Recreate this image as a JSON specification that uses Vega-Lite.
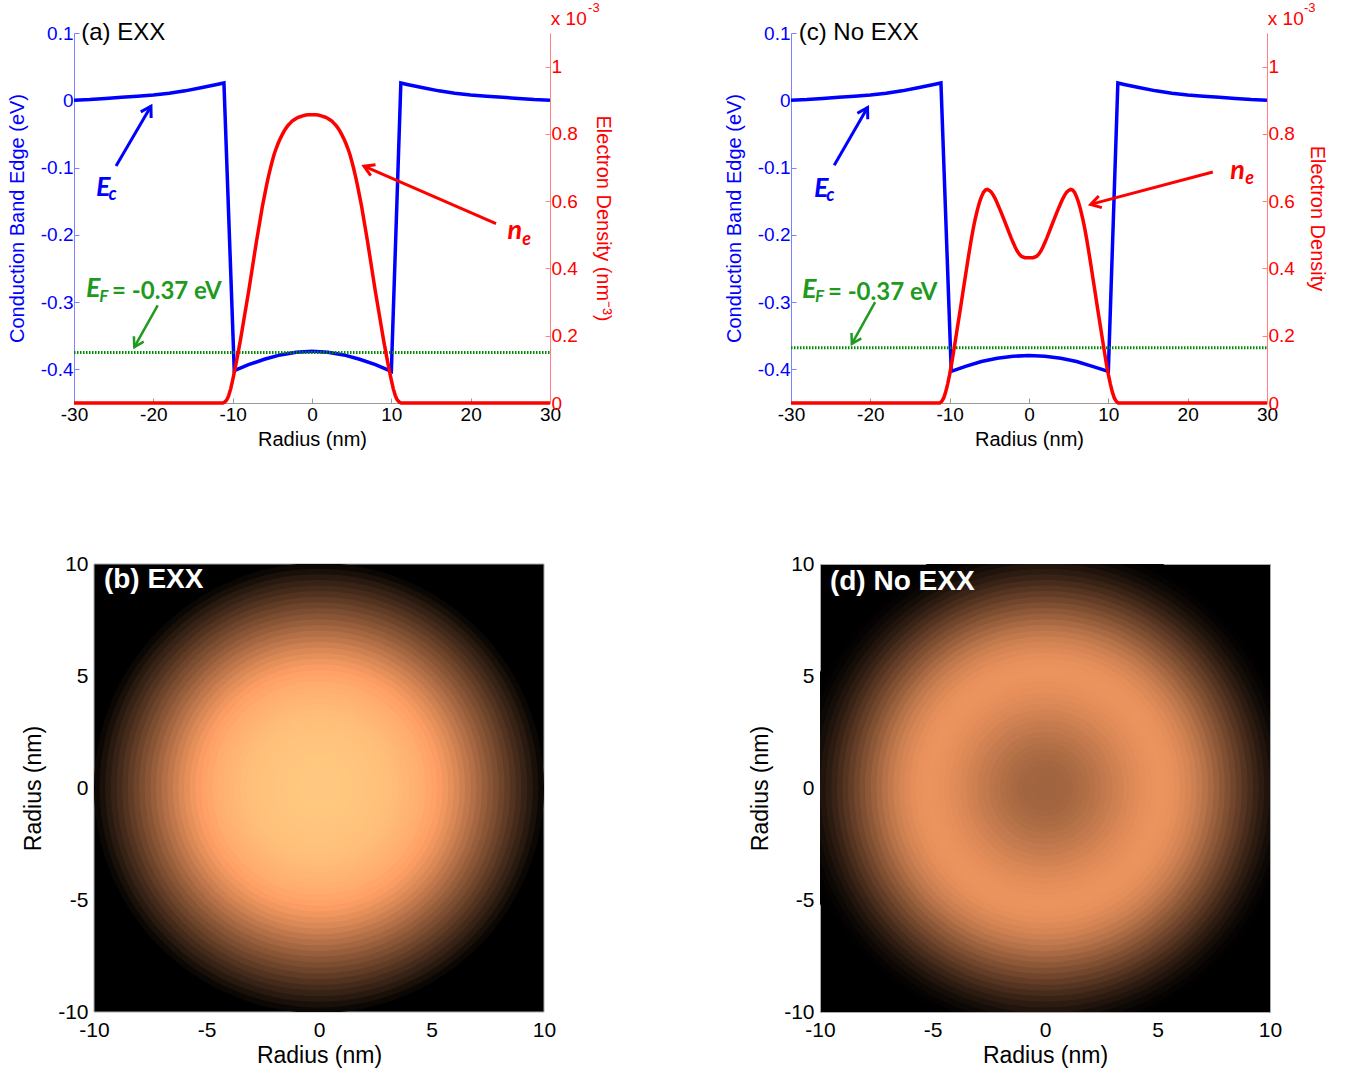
{
"$schema": "https://vega.github.io/schema/vega-lite/v6.json",
"background": "white",
"padding": {"left": 7, "top": 2, "right": 0, "bottom": 0},
"config": {
  "font": "Liberation Sans",
  "view": {"stroke": null},
  "axis": {"titleFontWeight": "normal", "grid": false, "labelFlush": false, "labelOverlap": false, "labelFont": "Liberation Sans", "titleFont": "Liberation Sans"},
  "locale": {"number": {"decimal": ".", "thousands": ",", "grouping": [3], "currency": ["$", ""], "minus": "-"}}
},
"datasets": {
  "ecA": [{"x":-30,"y":0},{"x":-28,"y":0.001},{"x":-26,"y":0.0028},{"x":-24,"y":0.0045},{"x":-22,"y":0.006},{"x":-20,"y":0.0078},{"x":-18,"y":0.0105},{"x":-16,"y":0.014},{"x":-14,"y":0.0185},{"x":-12,"y":0.0235},{"x":-11.1,"y":0.0257},{"x":-9.8,"y":-0.402},{"x":-8,"y":-0.393},{"x":-6,"y":-0.385},{"x":-4,"y":-0.3785},{"x":-2,"y":-0.3745},{"x":0,"y":-0.373},{"x":2,"y":-0.3745},{"x":4,"y":-0.3785},{"x":6,"y":-0.385},{"x":8,"y":-0.393},{"x":10,"y":-0.403},{"x":11.2,"y":0.0257},{"x":12,"y":0.0235},{"x":14,"y":0.0185},{"x":16,"y":0.014},{"x":18,"y":0.0105},{"x":20,"y":0.0078},{"x":22,"y":0.006},{"x":24,"y":0.0045},{"x":26,"y":0.0028},{"x":28,"y":0.001},{"x":30,"y":0}],
  "ecC": [{"x":-30,"y":0},{"x":-28,"y":0.001},{"x":-26,"y":0.0028},{"x":-24,"y":0.0045},{"x":-22,"y":0.006},{"x":-20,"y":0.0078},{"x":-18,"y":0.0105},{"x":-16,"y":0.014},{"x":-14,"y":0.0185},{"x":-12,"y":0.0235},{"x":-11.1,"y":0.0257},{"x":-9.8,"y":-0.403},{"x":-8,"y":-0.3955},{"x":-6,"y":-0.3883},{"x":-4,"y":-0.3834},{"x":-2,"y":-0.3805},{"x":0,"y":-0.3795},{"x":2,"y":-0.3805},{"x":4,"y":-0.3834},{"x":6,"y":-0.3883},{"x":8,"y":-0.3955},{"x":10,"y":-0.403},{"x":11.2,"y":0.0257},{"x":12,"y":0.0235},{"x":14,"y":0.0185},{"x":16,"y":0.014},{"x":18,"y":0.0105},{"x":20,"y":0.0078},{"x":22,"y":0.006},{"x":24,"y":0.0045},{"x":26,"y":0.0028},{"x":28,"y":0.001},{"x":30,"y":0}],
  "neA": [{"x":-30,"n":0},{"x":-11.25,"n":0},{"x":-11,"n":0.003},{"x":-10.75,"n":0.009},{"x":-10.5,"n":0.022},{"x":-10.25,"n":0.042},{"x":-10,"n":0.068},{"x":-9.75,"n":0.096},{"x":-9.5,"n":0.126},{"x":-9.25,"n":0.158},{"x":-9,"n":0.19},{"x":-8.75,"n":0.225},{"x":-8.5,"n":0.26},{"x":-8.25,"n":0.295},{"x":-8,"n":0.33},{"x":-7.75,"n":0.367},{"x":-7.5,"n":0.405},{"x":-7.25,"n":0.443},{"x":-7,"n":0.48},{"x":-6.75,"n":0.515},{"x":-6.5,"n":0.55},{"x":-6.25,"n":0.585},{"x":-6,"n":0.615},{"x":-5.75,"n":0.645},{"x":-5.5,"n":0.672},{"x":-5.25,"n":0.697},{"x":-5,"n":0.72},{"x":-4.75,"n":0.741},{"x":-4.5,"n":0.758},{"x":-4.25,"n":0.773},{"x":-4,"n":0.786},{"x":-3.75,"n":0.798},{"x":-3.5,"n":0.809},{"x":-3.25,"n":0.818},{"x":-3,"n":0.826},{"x":-2.75,"n":0.832},{"x":-2.5,"n":0.838},{"x":-2.25,"n":0.842},{"x":-2,"n":0.846},{"x":-1.75,"n":0.849},{"x":-1.5,"n":0.851},{"x":-1.25,"n":0.853},{"x":-1,"n":0.855},{"x":-0.75,"n":0.856},{"x":-0.5,"n":0.857},{"x":-0.25,"n":0.857},{"x":0,"n":0.857},{"x":0.25,"n":0.857},{"x":0.5,"n":0.857},{"x":0.75,"n":0.856},{"x":1,"n":0.855},{"x":1.25,"n":0.853},{"x":1.5,"n":0.851},{"x":1.75,"n":0.849},{"x":2,"n":0.846},{"x":2.25,"n":0.842},{"x":2.5,"n":0.838},{"x":2.75,"n":0.832},{"x":3,"n":0.826},{"x":3.25,"n":0.818},{"x":3.5,"n":0.809},{"x":3.75,"n":0.798},{"x":4,"n":0.786},{"x":4.25,"n":0.773},{"x":4.5,"n":0.758},{"x":4.75,"n":0.741},{"x":5,"n":0.72},{"x":5.25,"n":0.697},{"x":5.5,"n":0.672},{"x":5.75,"n":0.645},{"x":6,"n":0.615},{"x":6.25,"n":0.585},{"x":6.5,"n":0.55},{"x":6.75,"n":0.515},{"x":7,"n":0.48},{"x":7.25,"n":0.443},{"x":7.5,"n":0.405},{"x":7.75,"n":0.367},{"x":8,"n":0.33},{"x":8.25,"n":0.295},{"x":8.5,"n":0.26},{"x":8.75,"n":0.225},{"x":9,"n":0.19},{"x":9.25,"n":0.158},{"x":9.5,"n":0.126},{"x":9.75,"n":0.096},{"x":10,"n":0.068},{"x":10.25,"n":0.042},{"x":10.5,"n":0.022},{"x":10.75,"n":0.009},{"x":11,"n":0.003},{"x":11.25,"n":0},{"x":30,"n":0}],
  "hmB": [{"r":0,"n":0.857},{"r":0.25,"n":0.857},{"r":0.5,"n":0.857},{"r":0.75,"n":0.856},{"r":1,"n":0.855},{"r":1.25,"n":0.853},{"r":1.5,"n":0.851},{"r":1.75,"n":0.849},{"r":2,"n":0.846},{"r":2.25,"n":0.842},{"r":2.5,"n":0.838},{"r":2.75,"n":0.832},{"r":3,"n":0.826},{"r":3.25,"n":0.818},{"r":3.5,"n":0.809},{"r":3.75,"n":0.798},{"r":4,"n":0.786},{"r":4.25,"n":0.773},{"r":4.5,"n":0.758},{"r":4.75,"n":0.741},{"r":5,"n":0.72},{"r":5.25,"n":0.697},{"r":5.5,"n":0.672},{"r":5.75,"n":0.645},{"r":6,"n":0.615},{"r":6.25,"n":0.585},{"r":6.5,"n":0.55},{"r":6.75,"n":0.515},{"r":7,"n":0.48},{"r":7.25,"n":0.443},{"r":7.5,"n":0.405},{"r":7.75,"n":0.367},{"r":8,"n":0.33},{"r":8.25,"n":0.295},{"r":8.5,"n":0.258},{"r":8.75,"n":0.218},{"r":9,"n":0.182},{"r":9.25,"n":0.146},{"r":9.5,"n":0.11},{"r":9.75,"n":0.07},{"r":10,"n":0.03}],
  "neC": [{"x":-30,"n":0},{"x":-11.25,"n":0},{"x":-11,"n":0.005},{"x":-10.75,"n":0.015},{"x":-10.5,"n":0.033},{"x":-10.25,"n":0.057},{"x":-10,"n":0.085},{"x":-9.75,"n":0.117},{"x":-9.5,"n":0.153},{"x":-9.25,"n":0.19},{"x":-9,"n":0.228},{"x":-8.75,"n":0.265},{"x":-8.5,"n":0.303},{"x":-8.25,"n":0.342},{"x":-8,"n":0.38},{"x":-7.75,"n":0.418},{"x":-7.5,"n":0.455},{"x":-7.25,"n":0.49},{"x":-7,"n":0.522},{"x":-6.75,"n":0.55},{"x":-6.5,"n":0.575},{"x":-6.25,"n":0.596},{"x":-6,"n":0.613},{"x":-5.75,"n":0.626},{"x":-5.5,"n":0.633},{"x":-5.25,"n":0.635},{"x":-5,"n":0.632},{"x":-4.75,"n":0.627},{"x":-4.5,"n":0.618},{"x":-4.25,"n":0.607},{"x":-4,"n":0.594},{"x":-3.75,"n":0.58},{"x":-3.5,"n":0.566},{"x":-3.25,"n":0.551},{"x":-3,"n":0.536},{"x":-2.75,"n":0.521},{"x":-2.5,"n":0.506},{"x":-2.25,"n":0.491},{"x":-2,"n":0.477},{"x":-1.75,"n":0.464},{"x":-1.5,"n":0.452},{"x":-1.25,"n":0.443},{"x":-1,"n":0.437},{"x":-0.75,"n":0.434},{"x":-0.5,"n":0.432},{"x":-0.25,"n":0.432},{"x":0,"n":0.432},{"x":0.25,"n":0.432},{"x":0.5,"n":0.432},{"x":0.75,"n":0.434},{"x":1,"n":0.437},{"x":1.25,"n":0.443},{"x":1.5,"n":0.452},{"x":1.75,"n":0.464},{"x":2,"n":0.477},{"x":2.25,"n":0.491},{"x":2.5,"n":0.506},{"x":2.75,"n":0.521},{"x":3,"n":0.536},{"x":3.25,"n":0.551},{"x":3.5,"n":0.566},{"x":3.75,"n":0.58},{"x":4,"n":0.594},{"x":4.25,"n":0.607},{"x":4.5,"n":0.618},{"x":4.75,"n":0.627},{"x":5,"n":0.632},{"x":5.25,"n":0.635},{"x":5.5,"n":0.633},{"x":5.75,"n":0.626},{"x":6,"n":0.613},{"x":6.25,"n":0.596},{"x":6.5,"n":0.575},{"x":6.75,"n":0.55},{"x":7,"n":0.522},{"x":7.25,"n":0.49},{"x":7.5,"n":0.455},{"x":7.75,"n":0.418},{"x":8,"n":0.38},{"x":8.25,"n":0.342},{"x":8.5,"n":0.303},{"x":8.75,"n":0.265},{"x":9,"n":0.228},{"x":9.25,"n":0.19},{"x":9.5,"n":0.153},{"x":9.75,"n":0.117},{"x":10,"n":0.085},{"x":10.25,"n":0.057},{"x":10.5,"n":0.033},{"x":10.75,"n":0.015},{"x":11,"n":0.005},{"x":11.25,"n":0},{"x":30,"n":0}]
},
"spacing": 103,
"columns": 1,
"resolve": {"scale": {"x": "independent", "y": "independent", "color": "independent", "size": "independent"}},
"concat": [
 {
  "spacing": 111,
  "resolve": {"scale": {"x": "independent", "y": "independent"}},
  "hconcat": [
   {
    "width": 476, "height": 370,
    "resolve": {"scale": {"y": "independent"}},
    "encoding": {
      "x": {"field": "x", "type": "quantitative", "scale": {"domain": [-30, 30], "nice": false, "zero": false},
            "axis": {"values": [-30,-20,-10,0,10,20,30], "title": "Radius (nm)", "titleFontSize": 20, "labelFontSize": 19, "labelColor": "#000000", "titleColor": "#000000", "domainColor": "#999999", "tickColor": "#999999", "tickSize": -5, "labelPadding": 7, "titlePadding": 5, "format": "~r"}}
    },
    "layer": [
     {
      "encoding": {
        "y": {"field": "y", "type": "quantitative", "scale": {"domain": [-0.45, 0.1], "nice": false, "zero": false},
              "axis": {"values": [-0.4,-0.3,-0.2,-0.1,0,0.1], "title": "Conduction Band Edge (eV)", "titleFontSize": 20, "labelFontSize": 19, "labelColor": "#0000ff", "titleColor": "#0000ff", "domainColor": "#8080ff", "tickColor": "#8080ff", "tickSize": -5, "labelPadding": 6, "titlePadding": 13, "format": "~r"}}
      },
      "layer": [
       {"data": {"name": "ecA"}, "mark": {"type": "line", "color": "#0000ff", "strokeWidth": 3.5}},
       {"data": {"values": [{"x": -30, "hx": 30, "y": -0.375}]}, "mark": {"type": "rule", "color": "#008a00", "strokeWidth": 3, "strokeDash": [1.5, 1.5]},
        "encoding": {"x2": {"field": "hx"}}},
       {"data": {"values": [{"x": -24.7, "y": -0.0977, "hx": -20.3, "hy": -0.0089}]}, "mark": {"type": "rule", "color": "#0000ff", "strokeWidth": 3},
        "encoding": {"x2": {"field": "hx"}, "y2": {"field": "hy"}}},
       {"data": {"values": [{"x": -20.3, "y": -0.0089}]}, "mark": {"type": "point", "shape": "M-0.6,1L0,0L0.6,1", "filled": false, "color": "#0000ff", "strokeWidth": 3, "size": 400, "angle": 30, "opacity": 1}},
       {"data": {"values": [{"x": 23.2, "y": -0.1835, "hx": 6.55, "hy": -0.098}]}, "mark": {"type": "rule", "color": "#ff0000", "strokeWidth": 3},
        "encoding": {"x2": {"field": "hx"}, "y2": {"field": "hy"}}},
       {"data": {"values": [{"x": 6.55, "y": -0.098}]}, "mark": {"type": "point", "shape": "M-0.6,1L0,0L0.6,1", "filled": false, "color": "#ff0000", "strokeWidth": 3, "size": 400, "angle": 293.5, "opacity": 1}},
       {"data": {"values": [{"x": -19.45, "y": -0.305, "hx": -22.4, "hy": -0.367}]}, "mark": {"type": "rule", "color": "#1f9a1f", "strokeWidth": 2.5},
        "encoding": {"x2": {"field": "hx"}, "y2": {"field": "hy"}}},
       {"data": {"values": [{"x": -22.4, "y": -0.367}]}, "mark": {"type": "point", "shape": "M-0.6,1L0,0L0.6,1", "filled": false, "color": "#1f9a1f", "strokeWidth": 2.5, "size": 350, "angle": 209, "opacity": 1}},
       {"data": {"values": [{"x": -29.1, "y": 0.1, "t": "(a) EXX"}]}, "mark": {"type": "text", "align": "left", "baseline": "middle", "fontSize": 24, "color": "#000000", "font": "Liberation Sans"},
        "encoding": {"text": {"field": "t"}}},
       {"data": {"values": [{"x": -26.3, "y": -0.13, "t": "E"}]}, "mark": {"type": "text", "align": "center", "baseline": "middle", "fontSize": 27, "fontWeight": "bold", "fontStyle": "italic", "color": "#0000ff", "font": "Lato"},
        "encoding": {"text": {"field": "t"}}},
       {"data": {"values": [{"x": -25.15, "y": -0.1405, "t": "c"}]}, "mark": {"type": "text", "align": "center", "baseline": "middle", "fontSize": 18, "fontWeight": "bold", "fontStyle": "italic", "color": "#0000ff", "font": "Lato"},
        "encoding": {"text": {"field": "t"}}},
       {"data": {"values": [{"x": 25.55, "y": -0.1945, "t": "n"}]}, "mark": {"type": "text", "align": "center", "baseline": "middle", "fontSize": 27, "fontWeight": "bold", "fontStyle": "italic", "color": "#ff0000", "font": "Lato"},
        "encoding": {"text": {"field": "t"}}},
       {"data": {"values": [{"x": 27.05, "y": -0.2083, "t": "e"}]}, "mark": {"type": "text", "align": "center", "baseline": "middle", "fontSize": 18, "fontWeight": "bold", "fontStyle": "italic", "color": "#ff0000", "font": "Lato"},
        "encoding": {"text": {"field": "t"}}},
       {"data": {"values": [{"x": -27.57, "y": -0.2802, "t": "E"}]}, "mark": {"type": "text", "align": "center", "baseline": "middle", "fontSize": 27, "fontWeight": "bold", "fontStyle": "italic", "color": "#1f9a1f", "font": "Lato"},
        "encoding": {"text": {"field": "t"}}},
       {"data": {"values": [{"x": -26.25, "y": -0.2917, "t": "F"}]}, "mark": {"type": "text", "align": "center", "baseline": "middle", "fontSize": 17, "fontWeight": "bold", "fontStyle": "italic", "color": "#1f9a1f", "font": "Lato"},
        "encoding": {"text": {"field": "t"}}},
       {"data": {"values": [{"x": -25.2, "y": -0.2852, "t": "= -0.37 eV"}]}, "mark": {"type": "text", "align": "left", "baseline": "middle", "fontSize": 24, "fontWeight": "bold", "color": "#1f9a1f", "font": "Lato"},
        "encoding": {"text": {"field": "t"}}},
       {"data": {"values": [{"x": 30.1, "y": 0.1116, "t": "x 10"}]}, "mark": {"type": "text", "align": "left", "baseline": "alphabetic", "fontSize": 19, "color": "#ff0000", "font": "Liberation Sans"},
        "encoding": {"text": {"field": "t"}}},
       {"data": {"values": [{"x": 34.8, "y": 0.1365, "t": "-3"}]}, "mark": {"type": "text", "align": "left", "baseline": "middle", "fontSize": 13, "color": "#ff0000", "font": "Liberation Sans"},
        "encoding": {"text": {"field": "t"}}}
      ]
     },
     {"data": {"name": "neA"}, "mark": {"type": "line", "color": "#ff0000", "strokeWidth": 3.5},
      "encoding": {
        "y": {"field": "n", "type": "quantitative", "scale": {"domain": [0, 1.1], "nice": false, "zero": false},
              "axis": {"orient": "right", "values": [0,0.2,0.4,0.6,0.8,1], "title": "Electron Density (nm⁻³)", "titleFontSize": 20, "labelFontSize": 19, "labelColor": "#ff0000", "titleColor": "#ff0000", "domainColor": "#ff8080", "tickColor": "#ff8080", "tickSize": -5, "labelPadding": 6, "titlePadding": 15, "format": "~r"}}
      }}
    ]
   },
   {
    "width": 476, "height": 370,
    "resolve": {"scale": {"y": "independent"}},
    "encoding": {
      "x": {"field": "x", "type": "quantitative", "scale": {"domain": [-30, 30], "nice": false, "zero": false},
            "axis": {"values": [-30,-20,-10,0,10,20,30], "title": "Radius (nm)", "titleFontSize": 20, "labelFontSize": 19, "labelColor": "#000000", "titleColor": "#000000", "domainColor": "#999999", "tickColor": "#999999", "tickSize": -5, "labelPadding": 7, "titlePadding": 5, "format": "~r"}}
    },
    "layer": [
     {
      "encoding": {
        "y": {"field": "y", "type": "quantitative", "scale": {"domain": [-0.45, 0.1], "nice": false, "zero": false},
              "axis": {"values": [-0.4,-0.3,-0.2,-0.1,0,0.1], "title": "Conduction Band Edge (eV)", "titleFontSize": 20, "labelFontSize": 19, "labelColor": "#0000ff", "titleColor": "#0000ff", "domainColor": "#8080ff", "tickColor": "#8080ff", "tickSize": -5, "labelPadding": 6, "titlePadding": 13, "format": "~r"}}
      },
      "layer": [
       {"data": {"name": "ecC"}, "mark": {"type": "line", "color": "#0000ff", "strokeWidth": 3.5}},
       {"data": {"values": [{"x": -30, "hx": 30, "y": -0.368}]}, "mark": {"type": "rule", "color": "#008a00", "strokeWidth": 3, "strokeDash": [1.5, 1.5]},
        "encoding": {"x2": {"field": "hx"}}},
       {"data": {"values": [{"x": -24.55, "y": -0.0967, "hx": -20.35, "hy": -0.0109}]}, "mark": {"type": "rule", "color": "#0000ff", "strokeWidth": 3},
        "encoding": {"x2": {"field": "hx"}, "y2": {"field": "hy"}}},
       {"data": {"values": [{"x": -20.35, "y": -0.0109}]}, "mark": {"type": "point", "shape": "M-0.6,1L0,0L0.6,1", "filled": false, "color": "#0000ff", "strokeWidth": 3, "size": 400, "angle": 30, "opacity": 1}},
       {"data": {"values": [{"x": 23.17, "y": -0.1067, "hx": 7.77, "hy": -0.1548}]}, "mark": {"type": "rule", "color": "#ff0000", "strokeWidth": 3},
        "encoding": {"x2": {"field": "hx"}, "y2": {"field": "hy"}}},
       {"data": {"values": [{"x": 7.77, "y": -0.1548}]}, "mark": {"type": "point", "shape": "M-0.6,1L0,0L0.6,1", "filled": false, "color": "#ff0000", "strokeWidth": 3, "size": 400, "angle": 255, "opacity": 1}},
       {"data": {"values": [{"x": -19.4, "y": -0.3, "hx": -22.33, "hy": -0.362}]}, "mark": {"type": "rule", "color": "#1f9a1f", "strokeWidth": 2.5},
        "encoding": {"x2": {"field": "hx"}, "y2": {"field": "hy"}}},
       {"data": {"values": [{"x": -22.33, "y": -0.362}]}, "mark": {"type": "point", "shape": "M-0.6,1L0,0L0.6,1", "filled": false, "color": "#1f9a1f", "strokeWidth": 2.5, "size": 350, "angle": 209, "opacity": 1}},
       {"data": {"values": [{"x": -29.03, "y": 0.1, "t": "(c) No EXX"}]}, "mark": {"type": "text", "align": "left", "baseline": "middle", "fontSize": 24, "color": "#000000", "font": "Liberation Sans"},
        "encoding": {"text": {"field": "t"}}},
       {"data": {"values": [{"x": -26.2, "y": -0.1324, "t": "E"}]}, "mark": {"type": "text", "align": "center", "baseline": "middle", "fontSize": 27, "fontWeight": "bold", "fontStyle": "italic", "color": "#0000ff", "font": "Lato"},
        "encoding": {"text": {"field": "t"}}},
       {"data": {"values": [{"x": -25.05, "y": -0.1426, "t": "c"}]}, "mark": {"type": "text", "align": "center", "baseline": "middle", "fontSize": 18, "fontWeight": "bold", "fontStyle": "italic", "color": "#0000ff", "font": "Lato"},
        "encoding": {"text": {"field": "t"}}},
       {"data": {"values": [{"x": 26.3, "y": -0.105, "t": "n"}]}, "mark": {"type": "text", "align": "center", "baseline": "middle", "fontSize": 27, "fontWeight": "bold", "fontStyle": "italic", "color": "#ff0000", "font": "Lato"},
        "encoding": {"text": {"field": "t"}}},
       {"data": {"values": [{"x": 27.8, "y": -0.1166, "t": "e"}]}, "mark": {"type": "text", "align": "center", "baseline": "middle", "fontSize": 18, "fontWeight": "bold", "fontStyle": "italic", "color": "#ff0000", "font": "Lato"},
        "encoding": {"text": {"field": "t"}}},
       {"data": {"values": [{"x": -27.7, "y": -0.2813, "t": "E"}]}, "mark": {"type": "text", "align": "center", "baseline": "middle", "fontSize": 27, "fontWeight": "bold", "fontStyle": "italic", "color": "#1f9a1f", "font": "Lato"},
        "encoding": {"text": {"field": "t"}}},
       {"data": {"values": [{"x": -26.4, "y": -0.2925, "t": "F"}]}, "mark": {"type": "text", "align": "center", "baseline": "middle", "fontSize": 17, "fontWeight": "bold", "fontStyle": "italic", "color": "#1f9a1f", "font": "Lato"},
        "encoding": {"text": {"field": "t"}}},
       {"data": {"values": [{"x": -25.35, "y": -0.2863, "t": "= -0.37 eV"}]}, "mark": {"type": "text", "align": "left", "baseline": "middle", "fontSize": 24, "fontWeight": "bold", "color": "#1f9a1f", "font": "Lato"},
        "encoding": {"text": {"field": "t"}}},
       {"data": {"values": [{"x": 30.1, "y": 0.1116, "t": "x 10"}]}, "mark": {"type": "text", "align": "left", "baseline": "alphabetic", "fontSize": 19, "color": "#ff0000", "font": "Liberation Sans"},
        "encoding": {"text": {"field": "t"}}},
       {"data": {"values": [{"x": 34.65, "y": 0.1365, "t": "-3"}]}, "mark": {"type": "text", "align": "left", "baseline": "middle", "fontSize": 13, "color": "#ff0000", "font": "Liberation Sans"},
        "encoding": {"text": {"field": "t"}}}
      ]
     },
     {"data": {"name": "neC"}, "mark": {"type": "line", "color": "#ff0000", "strokeWidth": 3.5},
      "encoding": {
        "y": {"field": "n", "type": "quantitative", "scale": {"domain": [0, 1.1], "nice": false, "zero": false},
              "axis": {"orient": "right", "values": [0,0.2,0.4,0.6,0.8,1], "title": "Electron Density", "titleFontSize": 20, "labelFontSize": 19, "labelColor": "#ff0000", "titleColor": "#ff0000", "domainColor": "#ff8080", "tickColor": "#ff8080", "tickSize": -5, "labelPadding": 6, "titlePadding": 12, "format": "~r"}}
      }}
    ]
   }
  ]
 },
 {
  "spacing": 193,
  "resolve": {"scale": {"x": "independent", "y": "independent", "color": "independent", "size": "independent"}},
  "hconcat": [
   {
    "width": 470, "height": 448,
    "layer": [
     {"data": {"values": [{"x": -10, "x2": 10, "y": -10, "y2": 10}]},
      "mark": {"type": "rect", "fill": "#000000", "stroke": "#aaaaaa", "strokeWidth": 1},
      "encoding": {
        "x": {"field": "x", "type": "quantitative", "scale": {"domain": [-10, 10], "range": [20, 470], "nice": false, "zero": false},
              "axis": {"values": [-10,-5,0,5,10], "title": "Radius (nm)", "titleFontSize": 23, "labelFontSize": 21, "labelColor": "#000000", "titleColor": "#000000", "domain": false, "ticks": false, "labelPadding": 7, "titlePadding": 4, "format": "~r"}},
        "x2": {"field": "x2"},
        "y": {"field": "y", "type": "quantitative", "scale": {"domain": [-10, 10], "nice": false, "zero": false},
              "axis": {"values": [-10,-5,0,5,10], "title": "Radius (nm)", "titleFontSize": 23, "labelFontSize": 21, "labelColor": "#000000", "titleColor": "#000000", "domain": false, "ticks": false, "labelPadding": 6, "titlePadding": 12, "offset": -20, "format": "~r"}},
        "y2": {"field": "y2"}
      }},
     {"data": {"name": "hmB"},
      "mark": {"type": "point", "filled": true, "opacity": 1, "strokeWidth": 0, "clip": true},
      "encoding": {
        "x": {"datum": 0, "type": "quantitative", "scale": {"domain": [-10, 10], "range": [20, 470], "nice": false, "zero": false},
              "axis": {"values": [-10,-5,0,5,10], "title": "Radius (nm)", "titleFontSize": 23, "labelFontSize": 21, "labelColor": "#000000", "titleColor": "#000000", "domain": false, "ticks": false, "labelPadding": 7, "titlePadding": 4, "format": "~r"}},
        "y": {"datum": 0, "type": "quantitative", "scale": {"domain": [-10, 10], "nice": false, "zero": false},
              "axis": {"values": [-10,-5,0,5,10], "title": "Radius (nm)", "titleFontSize": 23, "labelFontSize": 21, "labelColor": "#000000", "titleColor": "#000000", "domain": false, "ticks": false, "labelPadding": 6, "titlePadding": 12, "offset": -20, "format": "~r"}},
        "size": {"field": "r", "type": "quantitative", "scale": {"type": "pow", "exponent": 2, "domain": [0, 10], "range": [0, 202500]}, "legend": null},
        "color": {"field": "n", "type": "quantitative", "scale": {"domain": [0, 0.6856, 0.857], "range": ["#000000", "#ff9f65", "#ffc77f"], "interpolate": "rgb"}, "legend": null},
        "order": {"field": "r", "sort": "descending"}
      }},
     {"data": {"values": [{"x": -9.56, "y": 9.3, "t": "(b) EXX"}]}, "mark": {"type": "text", "align": "left", "baseline": "middle", "fontSize": 28, "fontWeight": "bold", "color": "#ffffff", "font": "Liberation Sans"},
      "encoding": {
        "x": {"field": "x", "type": "quantitative", "scale": {"domain": [-10, 10], "range": [20, 470], "nice": false, "zero": false},
              "axis": {"values": [-10,-5,0,5,10], "title": "Radius (nm)", "titleFontSize": 23, "labelFontSize": 21, "labelColor": "#000000", "titleColor": "#000000", "domain": false, "ticks": false, "labelPadding": 7, "titlePadding": 4, "format": "~r"}},
        "y": {"field": "y", "type": "quantitative", "scale": {"domain": [-10, 10], "nice": false, "zero": false},
              "axis": {"values": [-10,-5,0,5,10], "title": "Radius (nm)", "titleFontSize": 23, "labelFontSize": 21, "labelColor": "#000000", "titleColor": "#000000", "domain": false, "ticks": false, "labelPadding": 6, "titlePadding": 12, "offset": -20, "format": "~r"}},
        "text": {"field": "t"}}}
    ]
   },
   {
    "width": 450, "height": 448,
    "view": {"fill": "#000000", "stroke": "#aaaaaa", "strokeWidth": 1},
    "layer": [
     {"data": {"name": "neC"}, "transform": [{"filter": "datum.x >= 0 && datum.x <= 12"}],
      "mark": {"type": "point", "filled": true, "opacity": 1, "strokeWidth": 0, "clip": true},
      "encoding": {
        "x": {"datum": 0, "type": "quantitative", "scale": {"domain": [-10, 10], "nice": false, "zero": false},
              "axis": {"values": [-10,-5,0,5,10], "title": "Radius (nm)", "titleFontSize": 23, "labelFontSize": 21, "labelColor": "#000000", "titleColor": "#000000", "domain": false, "ticks": false, "labelPadding": 7, "titlePadding": 4, "format": "~r"}},
        "y": {"datum": 0, "type": "quantitative", "scale": {"domain": [-10, 10], "nice": false, "zero": false},
              "axis": {"values": [-10,-5,0,5,10], "title": "Radius (nm)", "titleFontSize": 23, "labelFontSize": 21, "labelColor": "#000000", "titleColor": "#000000", "domain": false, "ticks": false, "labelPadding": 6, "titlePadding": 11, "format": "~r"}},
        "size": {"field": "x", "type": "quantitative", "scale": {"type": "pow", "exponent": 2, "domain": [0, 10], "range": [0, 202500]}, "legend": null},
        "color": {"field": "n", "type": "quantitative", "scale": {"domain": [0, 0.6856, 0.857], "range": ["#000000", "#ff9f65", "#ffc77f"], "interpolate": "rgb"}, "legend": null},
        "order": {"field": "x", "sort": "descending"}
      }},
     {"data": {"values": [{"x": -9.56, "y": 9.2, "t": "(d) No EXX"}]}, "mark": {"type": "text", "align": "left", "baseline": "middle", "fontSize": 28, "fontWeight": "bold", "color": "#ffffff", "font": "Liberation Sans"},
      "encoding": {
        "x": {"field": "x", "type": "quantitative", "scale": {"domain": [-10, 10], "nice": false, "zero": false},
              "axis": {"values": [-10,-5,0,5,10], "title": "Radius (nm)", "titleFontSize": 23, "labelFontSize": 21, "labelColor": "#000000", "titleColor": "#000000", "domain": false, "ticks": false, "labelPadding": 7, "titlePadding": 4, "format": "~r"}},
        "y": {"field": "y", "type": "quantitative", "scale": {"domain": [-10, 10], "nice": false, "zero": false},
              "axis": {"values": [-10,-5,0,5,10], "title": "Radius (nm)", "titleFontSize": 23, "labelFontSize": 21, "labelColor": "#000000", "titleColor": "#000000", "domain": false, "ticks": false, "labelPadding": 6, "titlePadding": 11, "format": "~r"}},
        "text": {"field": "t"}}}
    ]
   }
  ]
 }
]
}
